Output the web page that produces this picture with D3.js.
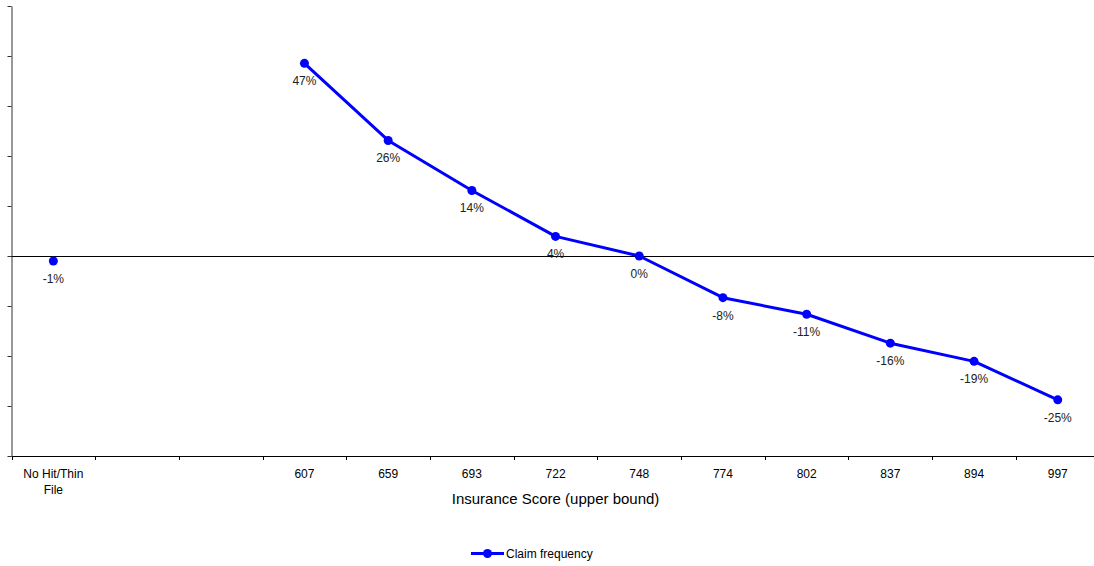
<!DOCTYPE html>
<html>
<head>
<meta charset="utf-8">
<script src="https://cdn.jsdelivr.net/npm/d3@7"></script>
<style>
  html, body { margin: 0; padding: 0; background: #fff; }
  svg { display: block; font-family: "Liberation Sans", Arial, sans-serif; }
</style>
</head>
<body>
<svg id="chart" width="1094" height="566"></svg>
<script>
// Score bands (upper bound); the two blank bands carry no data
const categories = ["No Hit/Thin File", "", "", "607", "659", "693", "722", "748", "774", "802", "837", "894", "997"];
// Claim frequency relative to the base band, in percent (null = no data)
const claimFrequency = [-1, null, null, 47, 26, 14, 4, 0, -8, -11, -16, -19, -25];
// Y axis works on log relativity; ticks every 0.1
const yTicks = [-0.4, -0.3, -0.2, -0.1, 0, 0.1, 0.2, 0.3, 0.4, 0.5];
const xTitle = "Insurance Score (upper bound)";
const seriesName = "Claim frequency";

(function () {
  const svg = d3.select("#chart");
  const W = 1094;
  const plotLeft = 11.5, plotRight = 1099.6, plotTop = 6, plotBottom = 456;
  const blue = "#0000ff";

  const keys = categories.map((_, i) => i);
  const x = d3.scaleBand().domain(keys).range([plotLeft, plotRight]).padding(0);
  const y = d3.scaleLinear().domain([-0.4, 0.5]).range([plotBottom, plotTop]);
  const logRel = v => Math.log(1 + v / 100);

  // X axis baseline and band-boundary ticks
  const xAxis = svg.append("g");
  xAxis.append("line")
    .attr("x1", plotLeft).attr("x2", W).attr("y1", plotBottom + 0.5).attr("y2", plotBottom + 0.5)
    .attr("stroke", "#000").attr("stroke-width", 1);
  xAxis.selectAll("line.tick")
    .data(keys)
    .join("line")
    .attr("class", "tick")
    .attr("x1", d => Math.round(x(d)) + 0.5).attr("x2", d => Math.round(x(d)) + 0.5)
    .attr("y1", plotBottom).attr("y2", plotBottom + 4)
    .attr("stroke", "#000");

  // Category labels, wrapped to band width
  const labels = xAxis.selectAll("text.cat")
    .data(keys)
    .join("text")
    .attr("class", "cat")
    .attr("x", d => x(d) + x.bandwidth() / 2)
    .attr("y", 478)
    .attr("text-anchor", "middle")
    .attr("font-size", 12)
    .attr("fill", "#000");
  labels.each(function (d) {
    const t = d3.select(this);
    const words = categories[d].split(" ").filter(w => w);
    const cxl = x(d) + x.bandwidth() / 2;
    let line = [];
    let tspan = t.append("tspan").attr("x", cxl).attr("dy", 0);
    words.forEach(w => {
      line.push(w);
      tspan.text(line.join(" "));
      if (tspan.node().getComputedTextLength() > x.bandwidth() - 10 && line.length > 1) {
        line.pop();
        tspan.text(line.join(" "));
        line = [w];
        tspan = t.append("tspan").attr("x", cxl).attr("dy", 16).text(w);
      }
    });
  });

  svg.append("text")
    .attr("x", (plotLeft + plotRight) / 2)
    .attr("y", 504)
    .attr("text-anchor", "middle")
    .attr("font-size", 15)
    .attr("fill", "#000")
    .text(xTitle);

  // Y axis (unlabelled)
  const yAxis = svg.append("g")
    .attr("transform", `translate(${plotLeft},0)`)
    .call(d3.axisLeft(y).tickValues(yTicks).tickFormat("").tickSize(4).tickSizeOuter(0));
  yAxis.select(".domain").attr("stroke", "#333");
  yAxis.selectAll(".tick line").attr("stroke", "#333");

  // Zero line
  svg.append("line")
    .attr("x1", plotLeft).attr("x2", W)
    .attr("y1", Math.round(y(0)) + 0.5).attr("y2", Math.round(y(0)) + 0.5)
    .attr("stroke", "#000").attr("stroke-width", 1);

  const pts = keys.map(i => ({ i, v: claimFrequency[i] }));
  const cx = d => x(d.i) + x.bandwidth() / 2;
  const cy = d => y(logRel(d.v));

  // Connected series from 607 onwards; the No Hit band stands alone
  const line = d3.line()
    .defined(d => d.v !== null && d.i > 0)
    .x(cx).y(cy);
  svg.append("path")
    .datum(pts)
    .attr("d", line)
    .attr("fill", "none")
    .attr("stroke", blue)
    .attr("stroke-width", 3)
    .attr("stroke-linejoin", "round");

  const valid = pts.filter(d => d.v !== null);
  svg.selectAll("circle.pt")
    .data(valid)
    .join("circle")
    .attr("class", "pt")
    .attr("cx", cx).attr("cy", cy).attr("r", 4.5)
    .attr("fill", blue);

  svg.selectAll("text.val")
    .data(valid)
    .join("text")
    .attr("class", "val")
    .attr("x", cx)
    .attr("y", d => cy(d) + 22)
    .attr("text-anchor", "middle")
    .attr("font-size", 12)
    .attr("fill", "#222")
    .text(d => d.v + "%");

  // Legend
  const lg = svg.append("g").attr("transform", "translate(471,553.5)");
  lg.append("line").attr("x1", 0).attr("x2", 33).attr("y1", 0).attr("y2", 0)
    .attr("stroke", blue).attr("stroke-width", 3);
  lg.append("circle").attr("cx", 16.5).attr("cy", 0).attr("r", 4.5).attr("fill", blue);
  lg.append("text").attr("x", 35).attr("y", 4).attr("font-size", 12).attr("fill", "#000")
    .text(seriesName);
})();
</script>
</body>
</html>
